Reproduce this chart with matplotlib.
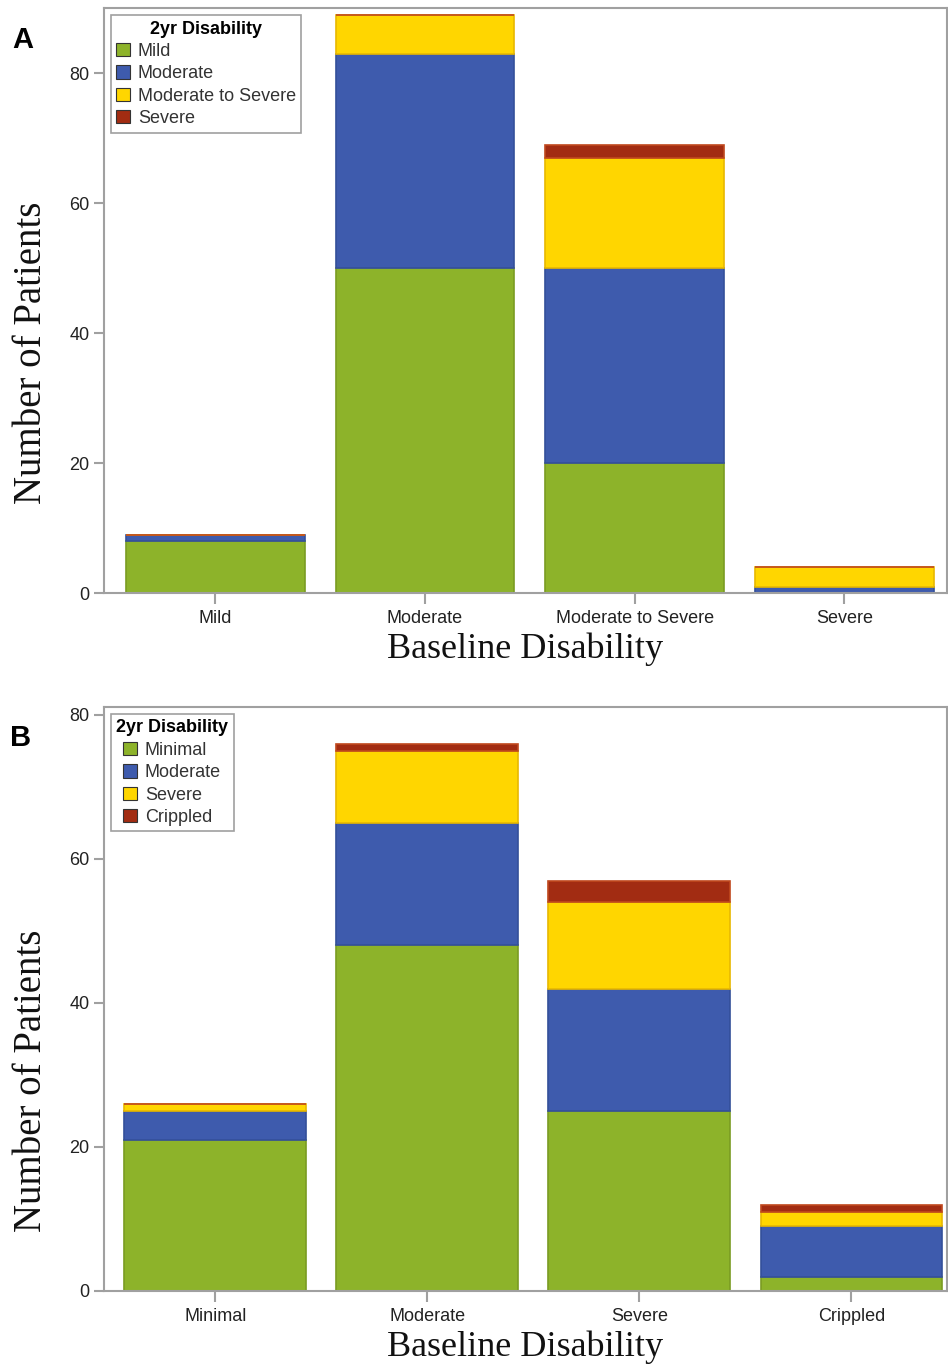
import numpy as np
import matplotlib
matplotlib.use("Agg")
import matplotlib.pyplot as plt
from matplotlib.patches import Patch

# panel A: baseline vs 2yr disability
a_cats = ["Mild", "Moderate", "Moderate to Severe", "Severe"]
a_series = ["Mild", "Moderate", "Moderate to Severe", "Severe"]
a_mild = [8, 50, 20, 0]
a_moderate = [1, 33, 30, 1]
a_modsev = [0, 6, 17, 3]
a_severe = [0, 0, 2, 0]

# panel B
b_cats = ["Minimal", "Moderate", "Severe", "Crippled"]
b_series = ["Minimal", "Moderate", "Severe", "Crippled"]
b_minimal = [21, 48, 25, 2]
b_moderate = [4, 17, 17, 7]
b_severe = [1, 10, 12, 2]
b_crippled = [0, 1, 3, 1]

fills = ["#8DB32A", "#3E5BAD", "#FFD600", "#A22C12"]
edges = ["#7A9C22", "#34509A", "#E8B800", "#C0481E"]
spine_col = "#A0A0A0"

plt.rcParams['font.family'] = ['Liberation Sans', 'DejaVu Sans']

fig = plt.figure(figsize=(9.48, 13.68), dpi=100)


def draw_panel(ax, cats, stacks, names, xlim, ylim, width, ylab_pos):
    x = np.arange(len(cats))
    bottom = np.zeros(len(cats))
    for vals, fc, ec in zip(stacks, fills, edges):
        vals = np.array(vals, dtype=float)
        ax.bar(x, vals, width, bottom=bottom, color=fc, edgecolor=ec,
               linewidth=1.2, zorder=2)
        bottom += vals
    ax.set_xlim(*xlim)
    ax.set_ylim(*ylim)
    ax.set_xticks(x)
    ax.set_xticklabels(cats, fontsize=13, color="#222222")
    ax.set_yticks([0, 20, 40, 60, 80])
    ax.tick_params(axis='y', labelsize=13, colors=spine_col,
                   labelcolor="#222222", length=7, width=1.5)
    ax.tick_params(axis='x', colors=spine_col, labelcolor="#222222",
                   length=8, width=1.5, pad=4)
    for s in ax.spines.values():
        s.set_color(spine_col)
        s.set_linewidth(1.5)
    ax.set_xlabel("Baseline Disability", family="Liberation Serif",
                  fontsize=26, color="#111111", labelpad=4)
    ax.set_ylabel("Number of Patients", family="Liberation Serif",
                  fontsize=28, color="#111111", labelpad=0)
    # label sits a bit low in the original
    ax.yaxis.set_label_coords(-0.064, ylab_pos)
    handles = [Patch(facecolor=fc, edgecolor="#333333", linewidth=0.8)
               for fc in fills]
    leg = ax.legend(handles, names, title="2yr Disability", loc="upper left",
                    bbox_to_anchor=(0.008, 0.988), fontsize=13,
                    title_fontproperties={'weight': 'bold', 'size': 13},
                    frameon=True, fancybox=False, edgecolor="#888888",
                    handlelength=0.75, handleheight=0.75, handletextpad=0.45,
                    labelspacing=0.3, borderpad=0.3, borderaxespad=0)
    leg.get_frame().set_linewidth(1.2)
    for t in leg.get_texts():
        t.set_color("#333333")


axA = fig.add_axes([0.1097, 0.5665, 0.889, 0.4276])
draw_panel(axA, a_cats, [a_mild, a_moderate, a_modsev, a_severe], a_series,
           (-0.531, 3.488), (0, 90), 0.852, 0.41)

axB = fig.add_axes([0.1097, 0.0563, 0.889, 0.4269])
draw_panel(axB, b_cats, [b_minimal, b_moderate, b_severe, b_crippled],
           b_series, (-0.525, 3.45), (0, 81.1), 0.857, 0.36)

fig.text(12 / 948, 1 - 40 / 1368, "A", fontsize=21, weight="bold",
         va="center", ha="left")
fig.text(10 / 948, 1 - 738 / 1368, "B", fontsize=21, weight="bold",
         va="center", ha="left")

fig.savefig("out.png", dpi=100)
